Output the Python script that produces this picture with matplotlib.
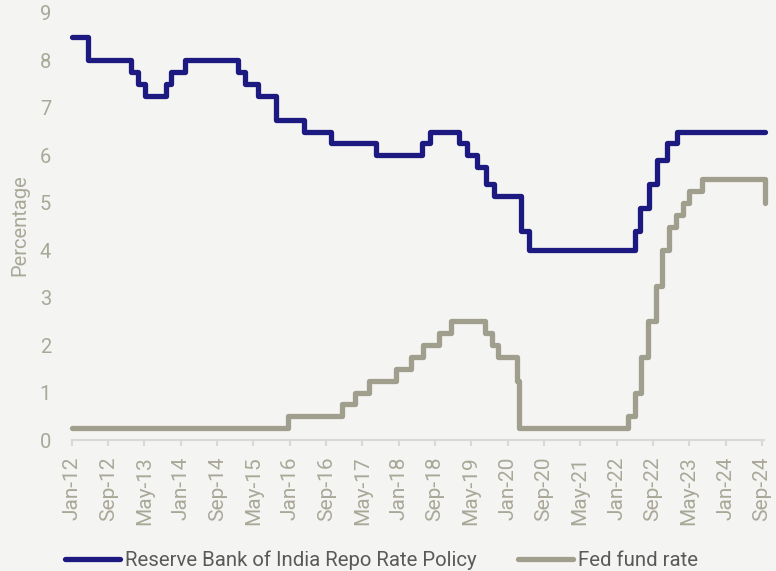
import pandas as pd
import matplotlib
matplotlib.use("Agg")
import matplotlib.pyplot as plt
import matplotlib.dates as mdates

# policy rate changes (date of change, new rate in %)
rbi_dates = ["2012-01-01", "2012-04-17", "2013-01-29", "2013-03-19", "2013-05-03",
             "2013-09-20", "2013-10-29", "2014-01-28", "2015-01-15", "2015-03-04",
             "2015-06-02", "2015-09-29", "2016-04-05", "2016-10-04", "2017-08-02",
             "2018-06-06", "2018-08-01", "2019-02-07", "2019-04-04", "2019-06-06",
             "2019-08-07", "2019-10-04", "2020-03-27", "2020-05-22", "2022-05-04",
             "2022-06-08", "2022-08-05", "2022-09-30", "2022-12-07", "2023-02-08",
             "2024-09-20"]
rbi_rate = [8.5, 8.0, 7.75, 7.5, 7.25,
            7.5, 7.75, 8.0, 7.75, 7.5,
            7.25, 6.75, 6.5, 6.25, 6.0,
            6.25, 6.5, 6.25, 6.0, 5.75,
            5.4, 5.15, 4.4, 4.0, 4.4,
            4.9, 5.4, 5.9, 6.25, 6.5,
            6.5]

fed_dates = ["2012-01-01", "2015-12-17", "2016-12-15", "2017-03-16", "2017-06-15",
             "2017-12-14", "2018-03-22", "2018-06-14", "2018-09-27", "2018-12-20",
             "2019-08-01", "2019-09-19", "2019-10-31", "2020-03-04", "2020-03-16",
             "2022-03-17", "2022-05-05", "2022-06-16", "2022-07-28", "2022-09-22",
             "2022-11-03", "2022-12-15", "2023-02-02", "2023-03-23", "2023-05-04",
             "2023-07-27", "2024-09-19", "2024-09-20"]
fed_rate = [0.25, 0.5, 0.75, 1.0, 1.25,
            1.5, 1.75, 2.0, 2.25, 2.5,
            2.25, 2.0, 1.75, 1.25, 0.25,
            0.5, 1.0, 1.75, 2.5, 3.25,
            4.0, 4.5, 4.75, 5.0, 5.25,
            5.5, 5.0, 5.0]

series_names = ["Reserve Bank of India Repo Rate Policy", "Fed fund rate"]

navy = "#1c1a80"
khaki = "#a09e8c"
bg = "#f4f4f2"
label_col = "#a9a898"

plt.rcParams['font.family'] = ['Roboto', 'DejaVu Sans']

fig = plt.figure(figsize=(7.76, 5.71), dpi=100, facecolor=bg)
ax = fig.add_axes([72/776, 131/571, 692/776, 427/571], facecolor=bg)

ax.plot(pd.to_datetime(rbi_dates), rbi_rate, drawstyle="steps-post", color=navy,
        lw=3.8, solid_capstyle="round", solid_joinstyle="round", clip_on=False,
        label=series_names[0])
ax.plot(pd.to_datetime(fed_dates), fed_rate, drawstyle="steps-post", color=khaki,
        lw=3.8, solid_capstyle="round", solid_joinstyle="round", clip_on=False,
        label=series_names[1])

ax.set_ylim(0, 9)
ax.set_yticks(range(0, 10))
ax.set_xlim(pd.Timestamp("2012-01-01"), pd.Timestamp("2024-09-15"))
ticks = pd.date_range("2012-01-01", "2024-09-01", freq="8MS")
ax.set_xticks(ticks)
ax.xaxis.set_major_formatter(mdates.DateFormatter("%b-%y"))

for s in ["top", "right", "left"]:
    ax.spines[s].set_visible(False)
ax.spines["bottom"].set_color("#d9d9d9")
ax.spines["bottom"].set_linewidth(1.5)

ax.tick_params(axis="y", length=0, pad=15, labelsize=14.5, labelcolor=label_col)
ax.tick_params(axis="x", length=4, width=1.5, color="#d9d9d9", pad=8,
               labelsize=15, labelcolor=label_col, labelrotation=90)

fig.text(20/776, 1 - 225/571, "Percentage", rotation=90, ha="center", va="center",
         fontsize=14.5, color=label_col)

fig.legend(loc="center left", bbox_to_anchor=(65/776, 11/571), ncol=2, frameon=False,
           handlelength=2.7, handletextpad=0.25, columnspacing=2.0,
           borderpad=0, borderaxespad=0, fontsize=14.7, labelcolor="#5a5a5a")

fig.savefig("out.png", dpi=100, facecolor=bg)
